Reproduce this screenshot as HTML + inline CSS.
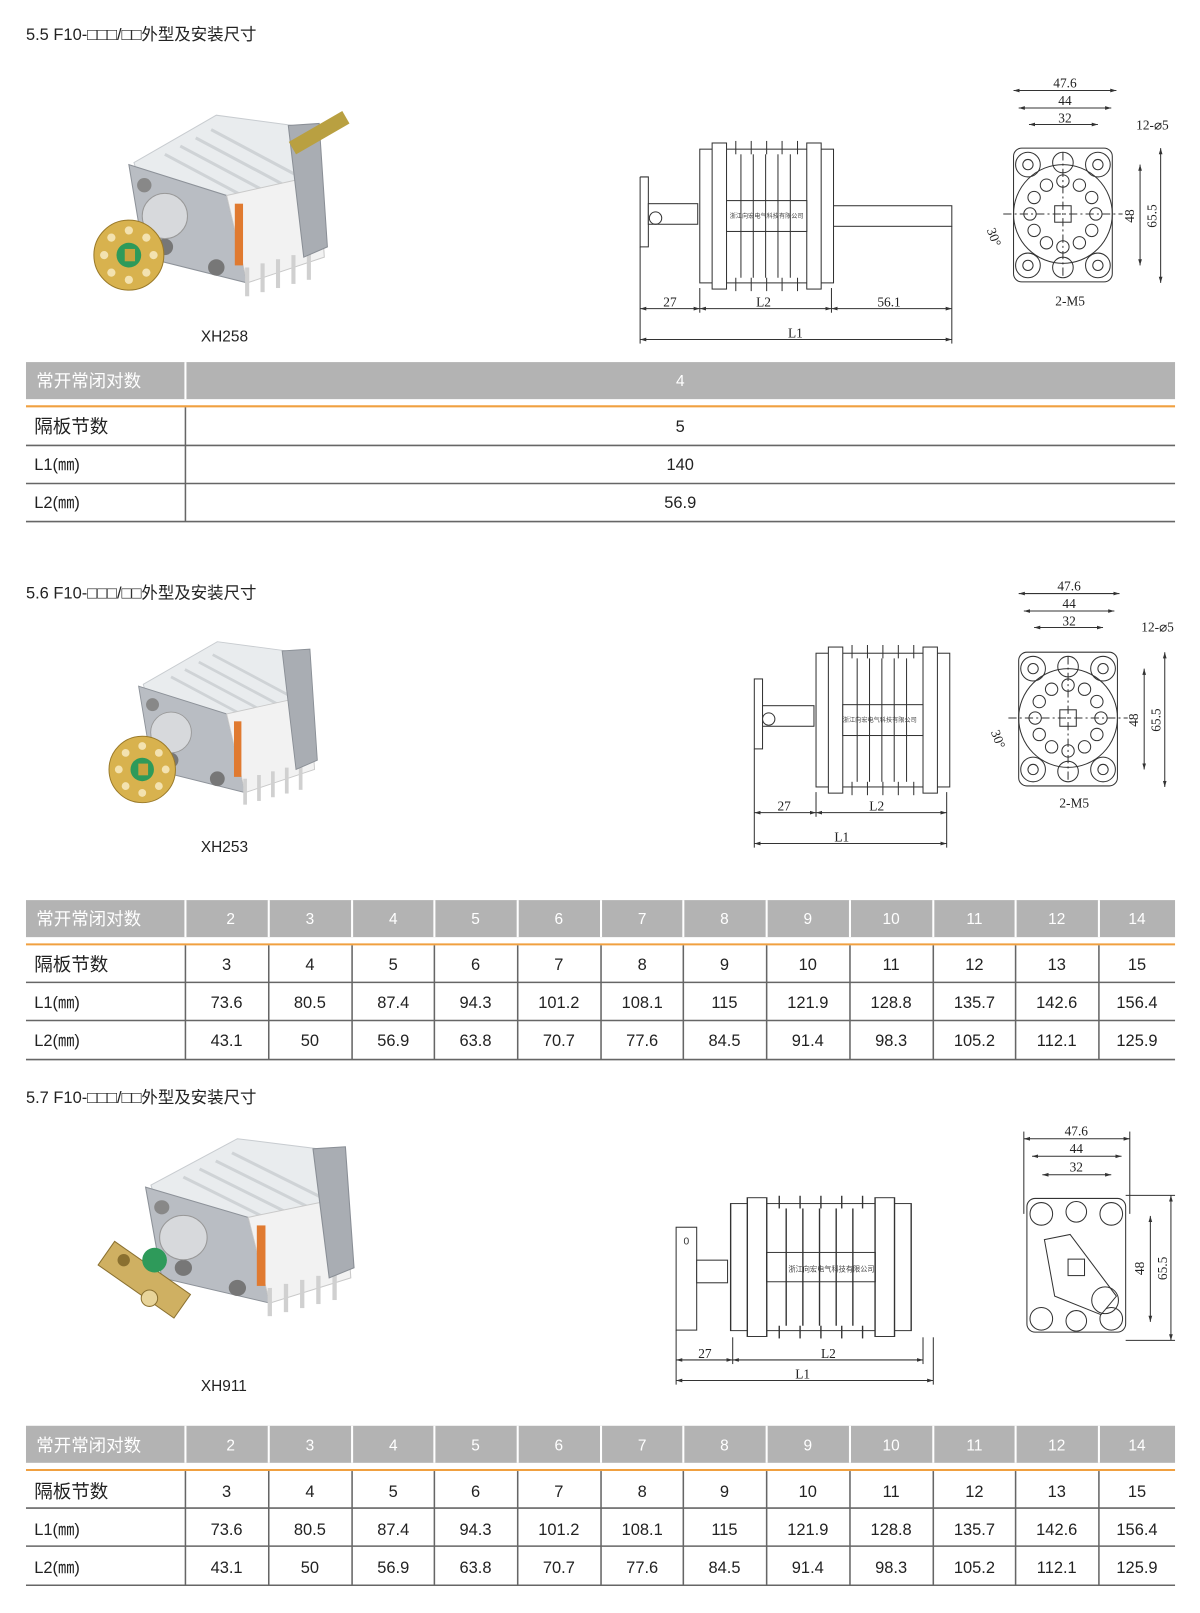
<!DOCTYPE html>
<html><head><meta charset="utf-8"><style>
html,body{margin:0;padding:0;background:#fff;}
svg{display:block;}
text{font-family:"Liberation Sans","Noto Sans CJK SC",sans-serif;}
.ser{font-family:"Liberation Serif","Noto Serif CJK SC",serif;}
</style></head><body>
<svg width="1200" height="1613" viewBox="0 0 1166 1568" xmlns="http://www.w3.org/2000/svg">
<defs>
<g id="photo">
  <polygon points="30,48 110,2 200,14 212,62 132,104 40,84" fill="#e9ecee" stroke="#c8ccd0"/>
  <g stroke="#cfd3d6" stroke-width="3">
    <line x1="60" y1="40" x2="150" y2="88"/><line x1="75" y1="32" x2="165" y2="80"/><line x1="90" y1="24" x2="180" y2="72"/><line x1="105" y1="16" x2="195" y2="64"/>
  </g>
  <polygon points="25,50 120,80 140,165 40,140" fill="#b9bdc3" stroke="#8d9299"/>
  <polygon points="120,80 210,60 215,140 140,165" fill="#f2f2f2" stroke="#c9c9c9"/>
  <g stroke="#d0d0d0" stroke-width="4">
    <line x1="140" y1="150" x2="140" y2="178"/><line x1="155" y1="146" x2="155" y2="174"/><line x1="170" y1="142" x2="170" y2="170"/><line x1="185" y1="138" x2="185" y2="166"/><line x1="200" y1="134" x2="200" y2="162"/>
  </g>
  <polygon points="180,12 210,10 218,130 195,140" fill="#a9adb3" stroke="#8a8f96"/>
  <rect x="128" y="88" width="8" height="60" fill="#e07a30"/>
  <circle cx="60" cy="130" r="8" fill="#777"/><circle cx="110" cy="150" r="8" fill="#777"/><circle cx="40" cy="70" r="7" fill="#888"/>
  <circle cx="60" cy="100" r="22" fill="#d7d9dc" stroke="#999"/>
</g>
<g id="disc">
  <circle cx="0" cy="0" r="34" fill="#d8b24e" stroke="#9a7a2a"/>
  <g fill="#f3e2b0"><circle cx="0" cy="-24" r="4"/><circle cx="17" cy="-17" r="4"/><circle cx="24" cy="0" r="4"/><circle cx="17" cy="17" r="4"/><circle cx="0" cy="24" r="4"/><circle cx="-17" cy="17" r="4"/><circle cx="-24" cy="0" r="4"/><circle cx="-17" cy="-17" r="4"/></g>
  <circle cx="0" cy="0" r="12" fill="#2e9a5a"/><rect x="-4" y="-6" width="10" height="12" fill="#c9a23d"/>
</g>
<g id="side" fill="none" stroke="#333" stroke-width="1">
  <rect x="-48" y="-64" width="96" height="130" rx="8"/>
  <circle cx="0" cy="0" r="48"/>
  <circle cx="-34" cy="-48" r="12"/><circle cx="34" cy="-48" r="12"/><circle cx="-34" cy="50" r="12"/><circle cx="34" cy="50" r="12"/>
  <circle cx="-34" cy="-48" r="5"/><circle cx="34" cy="-48" r="5"/><circle cx="-34" cy="50" r="5"/><circle cx="34" cy="50" r="5"/>
  <circle cx="0" cy="-50" r="10"/><circle cx="0" cy="52" r="10"/>
  <circle cx="0" cy="-32" r="6"/><circle cx="16" cy="-28" r="6"/><circle cx="28" cy="-16" r="6"/><circle cx="32" cy="0" r="6"/><circle cx="28" cy="16" r="6"/><circle cx="16" cy="28" r="6"/><circle cx="0" cy="32" r="6"/><circle cx="-16" cy="28" r="6"/><circle cx="-28" cy="16" r="6"/><circle cx="-32" cy="0" r="6"/><circle cx="-28" cy="-16" r="6"/><circle cx="-16" cy="-28" r="6"/>
  <rect x="-8" y="-8" width="16" height="16"/>
  <line x1="-58" y1="0" x2="58" y2="0" stroke-dasharray="8 3 2 3"/><line x1="0" y1="-60" x2="0" y2="60" stroke-dasharray="8 3 2 3"/>
</g>
<g id="body" fill="#fff" stroke="#333" stroke-width="1">
  <rect x="0" y="0" width="130" height="130"/>
  <rect x="12" y="-6" width="14" height="142"/><rect x="104" y="-6" width="14" height="142"/>
  <rect x="26" y="50" width="78" height="30"/>
  <g fill="none"><line x1="40" y1="5" x2="40" y2="125"/><line x1="52" y1="5" x2="52" y2="125"/><line x1="64" y1="5" x2="64" y2="125"/><line x1="76" y1="5" x2="76" y2="125"/><line x1="88" y1="5" x2="88" y2="125"/>
  <line x1="35" y1="-8" x2="35" y2="5"/><line x1="50" y1="-8" x2="50" y2="5"/><line x1="65" y1="-8" x2="65" y2="5"/><line x1="80" y1="-8" x2="80" y2="5"/><line x1="95" y1="-8" x2="95" y2="5"/>
  <line x1="35" y1="125" x2="35" y2="138"/><line x1="50" y1="125" x2="50" y2="138"/><line x1="65" y1="125" x2="65" y2="138"/><line x1="80" y1="125" x2="80" y2="138"/><line x1="95" y1="125" x2="95" y2="138"/></g>
</g>
<marker id="ar" viewBox="0 0 10 10" refX="10" refY="5" markerWidth="6" markerHeight="6" orient="auto-start-reverse"><path d="M0,2 L10,5 L0,8z" fill="#333"/></marker>
</defs>

<!-- Section 5.5 -->
<text x="25" y="39" font-size="16" fill="#222">5.5 F10-□□□/□□外型及安装尺寸</text>
<use href="#photo" transform="translate(100,110)"/>
<rect x="280" y="122" width="60" height="14" fill="#b9a041" transform="rotate(-30 310 129)"/>
<use href="#disc" transform="translate(125,248)"/>
<text x="195" y="332" font-size="15" fill="#222">XH258</text>

<polyline points="622,172 630,172 630,240 622,240 622,172" fill="#fff" stroke="#333"/>
<rect x="630" y="198" width="48" height="20" fill="#fff" stroke="#333"/>
<circle cx="637" cy="212" r="6" fill="none" stroke="#333"/>
<use href="#body" transform="translate(680,145)"/>
<text x="745" y="212" font-size="6" text-anchor="middle" fill="#444">浙江向宏电气科技有限公司</text>
<rect x="810" y="200" width="115" height="20" fill="#fff" stroke="#333"/>
<g stroke="#333" fill="none" marker-start="url(#ar)" marker-end="url(#ar)">
<line x1="622" y1="300" x2="680" y2="300"/><line x1="680" y1="300" x2="808" y2="300"/><line x1="808" y1="300" x2="925" y2="300"/><line x1="622" y1="330" x2="925" y2="330"/>
</g>
<g stroke="#333"><line x1="622" y1="240" x2="622" y2="334"/><line x1="680" y1="280" x2="680" y2="304"/><line x1="808" y1="280" x2="808" y2="304"/><line x1="925" y1="220" x2="925" y2="334"/></g>
<g class="ser" font-size="13" fill="#222" text-anchor="middle"><text class="ser" x="651" y="298">27</text><text class="ser" x="742" y="298">L2</text><text class="ser" x="864" y="298">56.1</text><text class="ser" x="773" y="328">L1</text></g>

<use href="#side" transform="translate(1033,208)"/>
<g stroke="#333" fill="none" marker-start="url(#ar)" marker-end="url(#ar)">
<line x1="985" y1="88" x2="1085" y2="88"/><line x1="990" y1="105" x2="1080" y2="105"/><line x1="1000" y1="121" x2="1067" y2="121"/>
<line x1="1108" y1="160" x2="1108" y2="258"/><line x1="1128" y1="144" x2="1128" y2="275"/>
</g>
<g class="ser" font-size="13" fill="#222" text-anchor="middle"><text class="ser" x="1035" y="85">47.6</text><text class="ser" x="1035" y="102">44</text><text class="ser" x="1035" y="119">32</text><text class="ser" x="1120" y="126">12-⌀5</text><text class="ser" x="1040" y="297">2-M5</text>
<text class="ser" x="1102" y="210" transform="rotate(-90 1102 210)">48</text><text class="ser" x="1124" y="210" transform="rotate(-90 1124 210)">65.5</text><text class="ser" x="962" y="232" transform="rotate(70 962 232)">30°</text></g>

<rect x="25" y="352" width="1117" height="36" fill="#b3b3b3"/>
<line x1="180" y1="352" x2="180" y2="388" stroke="#fff" stroke-width="2"/>
<line x1="25" y1="395" x2="1142" y2="395" stroke="#f0a040" stroke-width="2"/>
<text x="35" y="376" font-size="17" fill="#fff">常开常闭对数</text><text x="661" y="375" font-size="15" fill="#fff" text-anchor="middle">4</text>
<g stroke="#666" stroke-width="1.5"><line x1="25" y1="433" x2="1142" y2="433"/><line x1="25" y1="470" x2="1142" y2="470"/><line x1="25" y1="507" x2="1142" y2="507"/><line x1="180" y1="396" x2="180" y2="507"/></g>
<g font-size="16" fill="#222"><text x="33" y="421" font-size="18">隔板节数</text><text x="33" y="457">L1(㎜)</text><text x="33" y="494">L2(㎜)</text></g>
<g font-size="16" fill="#222" text-anchor="middle"><text x="661" y="420">5</text><text x="661" y="457">140</text><text x="661" y="494">56.9</text></g>

<!-- Section 5.6 -->
<text x="25" y="582" font-size="16" fill="#222">5.6 F10-□□□/□□外型及安装尺寸</text>
<use href="#photo" transform="translate(112,622) scale(0.9)"/>
<use href="#disc" transform="translate(138,748) scale(0.95)"/>
<text x="195" y="828" font-size="15" fill="#222">XH253</text>

<rect x="733" y="660" width="8" height="68" fill="#fff" stroke="#333"/>
<rect x="741" y="686" width="50" height="20" fill="#fff" stroke="#333"/>
<circle cx="747" cy="699" r="6" fill="none" stroke="#333"/>
<use href="#body" transform="translate(793,635)"/>
<text x="855" y="702" font-size="6" text-anchor="middle" fill="#444">浙江向宏电气科技有限公司</text>
<g stroke="#333" fill="none" marker-start="url(#ar)" marker-end="url(#ar)">
<line x1="733" y1="790" x2="793" y2="790"/><line x1="793" y1="790" x2="920" y2="790"/><line x1="733" y1="820" x2="920" y2="820"/></g>
<g stroke="#333"><line x1="733" y1="728" x2="733" y2="824"/><line x1="793" y1="770" x2="793" y2="794"/><line x1="920" y1="770" x2="920" y2="824"/></g>
<g font-size="13" fill="#222" text-anchor="middle"><text class="ser" x="762" y="788">27</text><text class="ser" x="852" y="788">L2</text><text class="ser" x="818" y="818">L1</text></g>

<use href="#side" transform="translate(1038,698)"/>
<g stroke="#333" fill="none" marker-start="url(#ar)" marker-end="url(#ar)">
<line x1="990" y1="577" x2="1088" y2="577"/><line x1="995" y1="594" x2="1083" y2="594"/><line x1="1005" y1="610" x2="1072" y2="610"/>
<line x1="1112" y1="650" x2="1112" y2="748"/><line x1="1132" y1="634" x2="1132" y2="765"/></g>
<g font-size="13" fill="#222" text-anchor="middle"><text class="ser" x="1039" y="574">47.6</text><text class="ser" x="1039" y="591">44</text><text class="ser" x="1039" y="608">32</text><text class="ser" x="1125" y="614">12-⌀5</text><text class="ser" x="1044" y="785">2-M5</text>
<text class="ser" x="1106" y="700" transform="rotate(-90 1106 700)">48</text><text class="ser" x="1128" y="700" transform="rotate(-90 1128 700)">65.5</text><text class="ser" x="966" y="720" transform="rotate(70 966 720)">30°</text></g>

<!-- Table 2 -->
<g id="t2">
<rect x="25" y="875" width="1117" height="36" fill="#b3b3b3"/>
<g stroke="#fff" stroke-width="2"><line x1="180" y1="875" x2="180" y2="911"/><line x1="261" y1="875" x2="261" y2="911"/><line x1="342" y1="875" x2="342" y2="911"/><line x1="422" y1="875" x2="422" y2="911"/><line x1="503" y1="875" x2="503" y2="911"/><line x1="584" y1="875" x2="584" y2="911"/><line x1="664" y1="875" x2="664" y2="911"/><line x1="745" y1="875" x2="745" y2="911"/><line x1="826" y1="875" x2="826" y2="911"/><line x1="907" y1="875" x2="907" y2="911"/><line x1="987" y1="875" x2="987" y2="911"/><line x1="1068" y1="875" x2="1068" y2="911"/></g>
<line x1="25" y1="918" x2="1142" y2="918" stroke="#f0a040" stroke-width="2"/>
<g stroke="#666" stroke-width="1.5"><line x1="25" y1="955" x2="1142" y2="955"/><line x1="25" y1="992" x2="1142" y2="992"/><line x1="25" y1="1030" x2="1142" y2="1030"/>
<line x1="180" y1="919" x2="180" y2="1030"/><line x1="261" y1="919" x2="261" y2="1030"/><line x1="342" y1="919" x2="342" y2="1030"/><line x1="422" y1="919" x2="422" y2="1030"/><line x1="503" y1="919" x2="503" y2="1030"/><line x1="584" y1="919" x2="584" y2="1030"/><line x1="664" y1="919" x2="664" y2="1030"/><line x1="745" y1="919" x2="745" y2="1030"/><line x1="826" y1="919" x2="826" y2="1030"/><line x1="907" y1="919" x2="907" y2="1030"/><line x1="987" y1="919" x2="987" y2="1030"/><line x1="1068" y1="919" x2="1068" y2="1030"/></g>
</g>
<text x="35" y="899" font-size="17" fill="#fff">常开常闭对数</text>
<g font-size="15" fill="#fff" text-anchor="middle"><text x="224" y="898">2</text><text x="301" y="898">3</text><text x="382" y="898">4</text><text x="462" y="898">5</text><text x="543" y="898">6</text><text x="624" y="898">7</text><text x="704" y="898">8</text><text x="785" y="898">9</text><text x="866" y="898">10</text><text x="947" y="898">11</text><text x="1027" y="898">12</text><text x="1105" y="898">14</text></g>
<g font-size="16" fill="#222"><text x="33" y="944" font-size="18">隔板节数</text><text x="33" y="980">L1(㎜)</text><text x="33" y="1017">L2(㎜)</text></g>
<g font-size="16" fill="#222" text-anchor="middle">
<text x="220" y="943">3</text><text x="301" y="943">4</text><text x="382" y="943">5</text><text x="462" y="943">6</text><text x="543" y="943">7</text><text x="624" y="943">8</text><text x="704" y="943">9</text><text x="785" y="943">10</text><text x="866" y="943">11</text><text x="947" y="943">12</text><text x="1027" y="943">13</text><text x="1105" y="943">15</text>
<text x="220" y="980">73.6</text><text x="301" y="980">80.5</text><text x="382" y="980">87.4</text><text x="462" y="980">94.3</text><text x="543" y="980">101.2</text><text x="624" y="980">108.1</text><text x="704" y="980">115</text><text x="785" y="980">121.9</text><text x="866" y="980">128.8</text><text x="947" y="980">135.7</text><text x="1027" y="980">142.6</text><text x="1105" y="980">156.4</text>
<text x="220" y="1017">43.1</text><text x="301" y="1017">50</text><text x="382" y="1017">56.9</text><text x="462" y="1017">63.8</text><text x="543" y="1017">70.7</text><text x="624" y="1017">77.6</text><text x="704" y="1017">84.5</text><text x="785" y="1017">91.4</text><text x="866" y="1017">98.3</text><text x="947" y="1017">105.2</text><text x="1027" y="1017">112.1</text><text x="1105" y="1017">125.9</text></g>

<!-- Section 5.7 -->
<text x="25" y="1072" font-size="16" fill="#222">5.7 F10-□□□/□□外型及安装尺寸</text>
<use href="#photo" transform="translate(115,1105) scale(1.05 0.98)"/>
<rect x="95" y="1230" width="90" height="28" fill="#cfb062" stroke="#8a7030" transform="rotate(35 140 1244)"/>
<circle cx="120" cy="1225" r="6" fill="#8a7030"/><circle cx="145" cy="1262" r="8" fill="#e8d49a" stroke="#8a7030"/>
<circle cx="150" cy="1225" r="12" fill="#2e9a5a"/>
<text x="195" y="1352" font-size="15" fill="#222">XH911</text>

<rect x="657" y="1193" width="20" height="100" fill="#fff" stroke="#333"/>
<text x="667" y="1210" font-size="10" text-anchor="middle" fill="#333">0</text>
<rect x="677" y="1225" width="30" height="22" fill="#fff" stroke="#333"/>
<use href="#body" transform="translate(710,1170) scale(1.35 0.95)"/>
<text x="808" y="1236" font-size="7" text-anchor="middle" fill="#444">浙江向宏电气科技有限公司</text>
<g stroke="#333" fill="none" marker-start="url(#ar)" marker-end="url(#ar)">
<line x1="657" y1="1322" x2="712" y2="1322"/><line x1="712" y1="1322" x2="897" y2="1322"/><line x1="657" y1="1342" x2="907" y2="1342"/></g>
<g stroke="#333"><line x1="657" y1="1293" x2="657" y2="1346"/><line x1="712" y1="1300" x2="712" y2="1326"/><line x1="897" y1="1300" x2="897" y2="1326"/><line x1="907" y1="1300" x2="907" y2="1346"/></g>
<g font-size="13" fill="#222" text-anchor="middle"><text class="ser" x="685" y="1320">27</text><text class="ser" x="805" y="1320">L2</text><text class="ser" x="780" y="1340">L1</text></g>

<g fill="none" stroke="#333">
<rect x="998" y="1165" width="96" height="130" rx="8"/>
<circle cx="1012" cy="1180" r="11"/><circle cx="1080" cy="1180" r="11"/><circle cx="1012" cy="1282" r="11"/><circle cx="1080" cy="1282" r="11"/>
<circle cx="1046" cy="1178" r="10"/><circle cx="1046" cy="1284" r="10"/>
<polygon points="1015,1205 1040,1200 1085,1260 1070,1278 1025,1260" fill="#fff"/>
<rect x="1038" y="1224" width="16" height="16"/>
<circle cx="1074" cy="1264" r="13"/>
</g>
<g stroke="#333" fill="none" marker-start="url(#ar)" marker-end="url(#ar)">
<line x1="995" y1="1107" x2="1098" y2="1107"/><line x1="1003" y1="1124" x2="1090" y2="1124"/><line x1="1013" y1="1142" x2="1080" y2="1142"/>
<line x1="1118" y1="1182" x2="1118" y2="1285"/><line x1="1138" y1="1162" x2="1138" y2="1303"/></g>
<g stroke="#333"><line x1="995" y1="1100" x2="995" y2="1180"/><line x1="1098" y1="1100" x2="1098" y2="1180"/><line x1="1094" y1="1162" x2="1142" y2="1162"/><line x1="1094" y1="1303" x2="1142" y2="1303"/></g>
<g font-size="13" fill="#222" text-anchor="middle"><text class="ser" x="1046" y="1104">47.6</text><text class="ser" x="1046" y="1121">44</text><text class="ser" x="1046" y="1139">32</text>
<text class="ser" x="1112" y="1233" transform="rotate(-90 1112 1233)">48</text><text class="ser" x="1134" y="1233" transform="rotate(-90 1134 1233)">65.5</text></g>

<!-- Table 3 -->
<use href="#t2" transform="translate(0,511)"/>
<text x="35" y="1411" font-size="17" fill="#fff">常开常闭对数</text>
<g font-size="15" fill="#fff" text-anchor="middle"><text x="224" y="1410">2</text><text x="301" y="1410">3</text><text x="382" y="1410">4</text><text x="462" y="1410">5</text><text x="543" y="1410">6</text><text x="624" y="1410">7</text><text x="704" y="1410">8</text><text x="785" y="1410">9</text><text x="866" y="1410">10</text><text x="947" y="1410">11</text><text x="1027" y="1410">12</text><text x="1105" y="1410">14</text></g>
<g font-size="16" fill="#222"><text x="33" y="1456" font-size="18">隔板节数</text><text x="33" y="1492">L1(㎜)</text><text x="33" y="1529">L2(㎜)</text></g>
<g font-size="16" fill="#222" text-anchor="middle">
<text x="220" y="1455">3</text><text x="301" y="1455">4</text><text x="382" y="1455">5</text><text x="462" y="1455">6</text><text x="543" y="1455">7</text><text x="624" y="1455">8</text><text x="704" y="1455">9</text><text x="785" y="1455">10</text><text x="866" y="1455">11</text><text x="947" y="1455">12</text><text x="1027" y="1455">13</text><text x="1105" y="1455">15</text>
<text x="220" y="1492">73.6</text><text x="301" y="1492">80.5</text><text x="382" y="1492">87.4</text><text x="462" y="1492">94.3</text><text x="543" y="1492">101.2</text><text x="624" y="1492">108.1</text><text x="704" y="1492">115</text><text x="785" y="1492">121.9</text><text x="866" y="1492">128.8</text><text x="947" y="1492">135.7</text><text x="1027" y="1492">142.6</text><text x="1105" y="1492">156.4</text>
<text x="220" y="1529">43.1</text><text x="301" y="1529">50</text><text x="382" y="1529">56.9</text><text x="462" y="1529">63.8</text><text x="543" y="1529">70.7</text><text x="624" y="1529">77.6</text><text x="704" y="1529">84.5</text><text x="785" y="1529">91.4</text><text x="866" y="1529">98.3</text><text x="947" y="1529">105.2</text><text x="1027" y="1529">112.1</text><text x="1105" y="1529">125.9</text></g>
</svg>
</body></html>
